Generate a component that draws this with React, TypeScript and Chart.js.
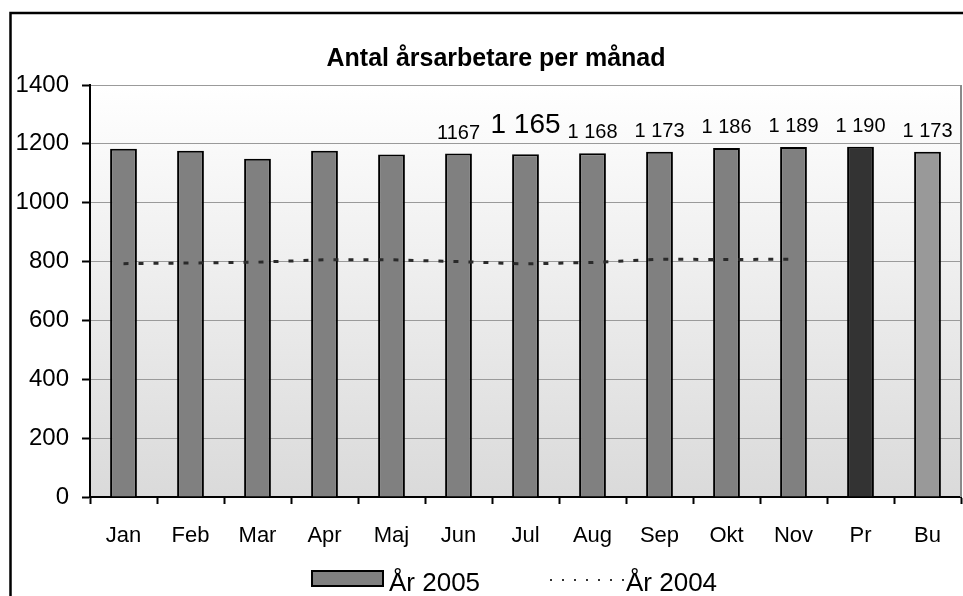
import { useEffect, useRef } from "react";
import { Chart, registerables } from "chart.js";
Chart.register(...registerables);

const chartTitle = "Antal årsarbetare per månad";
const categories = ["Jan", "Feb", "Mar", "Apr", "Maj", "Jun", "Jul", "Aug", "Sep", "Okt", "Nov", "Pr", "Bu"];
const values2005 = [1183, 1177, 1149, 1177, 1164, 1167, 1165, 1168, 1173, 1186, 1189, 1190, 1173];
const values2004 = [793, 795, 798, 806, 806, 800, 792, 797, 808, 807, 808, null, null];
const barLabels = ["", "", "", "", "", "1167", "1 165", "1 168", "1 173", "1 186", "1 189", "1 190", "1 173"];
const seriesNames = ["År 2005", "År 2004"];
const yMin = 0;
const yMax = 1400;
const yStep = 200;

const FONT = "Arial, 'Liberation Sans', sans-serif";
const barColors = categories.map((c) => (c === "Pr" ? "#333333" : c === "Bu" ? "#999999" : "#808080"));

export default function App() {
  const ref = useRef<HTMLCanvasElement | null>(null);

  useEffect(() => {
    const canvas = ref.current;
    if (!canvas) return;

    const decor = {
      id: "decor",
      beforeDraw(chart: any) {
        const { ctx, chartArea: a } = chart;
        ctx.save();
        ctx.fillStyle = "#ffffff";
        ctx.fillRect(0, 0, chart.width, chart.height);
        const g = ctx.createLinearGradient(0, a.top, 0, a.bottom);
        g.addColorStop(0, "#ffffff");
        g.addColorStop(1, "#dadada");
        ctx.fillStyle = g;
        ctx.fillRect(a.left, a.top, a.right - a.left, a.bottom - a.top);
        ctx.strokeStyle = "#000";
        ctx.lineWidth = 2.5;
        ctx.strokeRect(10.5, 13, 2000, 2000);
        ctx.restore();
      },
      afterDatasetsDraw(chart: any) {
        const { ctx } = chart;
        const meta = chart.getDatasetMeta(1);
        ctx.save();
        ctx.fillStyle = "#000";
        ctx.textAlign = "center";
        ctx.textBaseline = "alphabetic";
        meta.data.forEach((bar: any, i: number) => {
          const t = barLabels[i];
          if (!t) return;
          const big = i === 6;
          ctx.font = `${big ? 28 : 20}px ${FONT}`;
          ctx.fillText(t, bar.x, bar.y - (big ? 21 : 15));
        });
        ctx.restore();
      },
      afterDraw(chart: any) {
        const { ctx, chartArea: a } = chart;
        ctx.save();
        ctx.strokeStyle = "#8a8a8a";
        ctx.lineWidth = 2;
        ctx.beginPath();
        ctx.moveTo(a.right, a.top);
        ctx.lineTo(a.right, a.bottom);
        ctx.stroke();
        ctx.fillStyle = "#000";
        ctx.font = `bold 25px ${FONT}`;
        ctx.textAlign = "center";
        ctx.textBaseline = "alphabetic";
        ctx.fillText(chartTitle, 496, 66);
        ctx.fillStyle = "#808080";
        ctx.fillRect(312, 571, 71, 15);
        ctx.strokeStyle = "#000";
        ctx.lineWidth = 2;
        ctx.strokeRect(312, 571, 71, 15);
        ctx.fillStyle = "#000";
        ctx.font = `26px ${FONT}`;
        ctx.textAlign = "left";
        ctx.fillText(seriesNames[0], 389, 591);
        ctx.strokeStyle = "#333";
        ctx.lineWidth = 2;
        ctx.setLineDash([2, 10]);
        ctx.beginPath();
        ctx.moveTo(550, 580);
        ctx.lineTo(624, 580);
        ctx.stroke();
        ctx.setLineDash([]);
        ctx.fillText(seriesNames[1], 626, 591);
        ctx.restore();
      },
    };

    const chart = new Chart(canvas, {
      type: "bar",
      data: {
        labels: categories,
        datasets: [
          {
            type: "line",
            label: seriesNames[1],
            data: values2004,
            borderColor: "#2a2a2a",
            borderWidth: 3,
            borderDash: [5, 10],
            pointRadius: 0,
            fill: false,
            tension: 0,
            order: 1,
          } as any,
          {
            type: "bar",
            label: seriesNames[0],
            data: values2005,
            backgroundColor: barColors,
            borderColor: "#000000",
            borderWidth: 2,
            barPercentage: 0.4,
            categoryPercentage: 1,
            order: 2,
          } as any,
        ],
      },
      options: {
        responsive: false,
        animation: false,
        layout: { padding: { left: 0, right: 2, top: 85, bottom: 0 } },
        plugins: {
          legend: { display: false },
          title: { display: false },
          tooltip: { enabled: false },
        },
        scales: {
          x: {
            grid: {
              offset: true,
              drawOnChartArea: false,
              tickLength: 7,
              tickColor: "#000",
              tickWidth: 2,
            },
            border: { color: "#000", width: 2 },
            ticks: { color: "#000", font: { family: FONT, size: 22 }, padding: 19 },
            afterFit(s: any) {
              s.height = 99;
            },
          },
          y: {
            min: yMin,
            max: yMax,
            ticks: {
              stepSize: yStep,
              color: "#000",
              font: { family: FONT, size: 24 },
              padding: 13,
              callback: (v: any) => String(v),
            },
            grid: { color: "#9a9a9a", lineWidth: 1, tickLength: 8, tickColor: "#000", tickWidth: 2 },
            border: { color: "#000", width: 2 },
            afterFit(s: any) {
              s.width = 90;
            },
          },
        },
      },
      plugins: [decor],
    });
    return () => chart.destroy();
  }, []);

  return (
    <div style={{ position: "fixed", left: 0, top: 0, width: 963, height: 596 }}>
      <canvas ref={ref} width={963} height={596} style={{ display: "block" }} />
    </div>
  );
}
